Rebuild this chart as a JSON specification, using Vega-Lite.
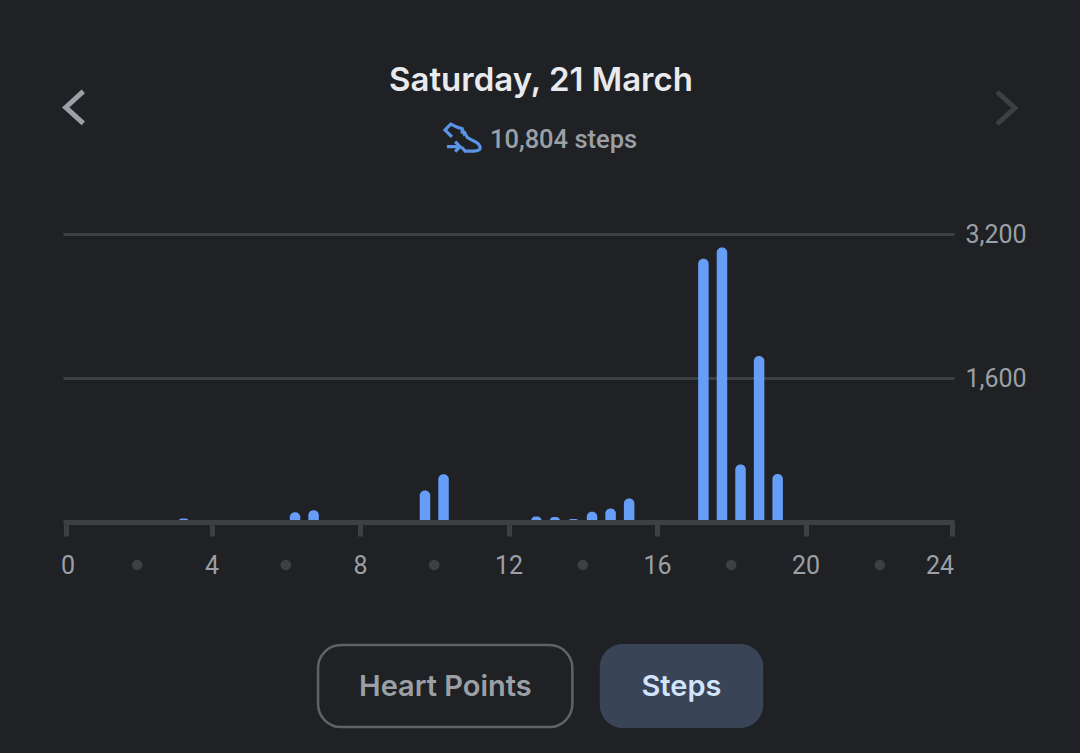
{
"$schema":"https://vega.github.io/schema/vega-lite/v6.json",
"width":891,"height":288,
"autosize":{"type":"none"},
"padding":{"left":63,"top":234,"right":126,"bottom":231},
"background":"#202124",
"config":{"view":{"stroke":null}},
"layer":[
{"data":{"values":[
{"hour":3.25,"steps":38},{"hour":6.25,"steps":108},{"hour":6.75,"steps":130},{"hour":9.75,"steps":350},{"hour":10.25,"steps":530},
{"hour":12.75,"steps":60},{"hour":13.25,"steps":55},{"hour":13.75,"steps":33},{"hour":14.25,"steps":115},{"hour":14.75,"steps":150},{"hour":15.25,"steps":260},
{"hour":17.25,"steps":2925},{"hour":17.75,"steps":3050},{"hour":18.25,"steps":640},{"hour":18.75,"steps":1845},{"hour":19.25,"steps":533}]},
"mark":{"type":"bar","size":10.5,"cornerRadiusTopLeft":5,"cornerRadiusTopRight":5,"color":"#669df6"},
"encoding":{
"x":{"field":"hour","type":"quantitative","scale":{"domain":[0,24],"nice":false,"padding":0},
"axis":{"values":[0,4,8,12,16,20,24],"grid":false,"title":null,"zindex":1,"domainColor":"#3c4043","domainWidth":5,"tickColor":"#3c4043","tickWidth":5,"tickSize":14,"tickOffset":{"expr":"datum.value==0?2.5:datum.value==24?-2.5:0"},"labelColor":"#9aa0a6","labelFont":"Roboto","labelFontSize":25,"labelPadding":17,"labelOffset":{"expr":"datum.value==0?-5:datum.value==24?2:0"},"labelAlign":{"expr":"datum.value==0?'left':datum.value==24?'right':'center'"},"format":"d"}},
"y":{"field":"steps","type":"quantitative","scale":{"domain":[0,3200],"nice":false,"padding":0},
"axis":{"orient":"right","values":[1600,3200],"title":null,"domain":false,"ticks":false,"grid":true,"gridColor":"#3c4043","gridWidth":3,"labelColor":"#9aa0a6","labelFont":"Roboto","labelFontSize":25,"labelPadding":11,"format":",.0f"}},
"y2":{"datum":-32}
}},
{"data":{"values":[{"hour":2},{"hour":6},{"hour":10},{"hour":14},{"hour":18},{"hour":22}]},
"mark":{"type":"point","filled":true,"size":110,"color":"#3c4043","opacity":1},
"encoding":{"x":{"field":"hour","type":"quantitative"},"y":{"datum":-478,"type":"quantitative"}}},
{"data":{"values":[{"label":"Saturday, 21 March"}]},
"mark":{"type":"text","font":"Inter","fontWeight":600,"fontSize":33,"color":"#e8eaed","align":"center","baseline":"middle"},
"encoding":{"text":{"field":"label"},"x":{"datum":12.875,"type":"quantitative"},"y":{"datum":4900,"type":"quantitative"}}},
{"data":{"values":[{"label":"10,804 steps"}]},
"mark":{"type":"text","font":"Roboto","fontWeight":500,"fontSize":25.5,"color":"#9aa0a6","align":"left","baseline":"middle"},
"encoding":{"text":{"field":"label"},"x":{"datum":11.5,"type":"quantitative"},"y":{"datum":4245,"type":"quantitative"}}},
{"data":{"values":[{"icon":"steps"}]},
"mark":{"type":"point","filled":false,"size":1344,"opacity":1,"stroke":"#5b93e8","strokeWidth":3.2,"shape":"M-.58,-.05L-.95,-.42L-.64,-.74L-.22,-.55L-.02,-.5L.04,-.32L-.1,-.3M.08,-.35L.16,-.2L.02,-.16M.2,-.12L.26,-.02L.51,.13C.8,.25,1,.38,.96,.6C.92,.75,.6,.74,.15,.73L-.04,.52M-.85,.49L-.22,.49M-.4,.22L-.13,.49L-.4,.76"},
"encoding":{"x":{"datum":10.76,"type":"quantitative"},"y":{"datum":4270,"type":"quantitative"}}},
{"data":{"values":[{"nav":"previous"}]},
"mark":{"type":"point","filled":false,"size":1024,"opacity":1,"stroke":"#9aa0a6","strokeWidth":5,"shape":"M.55,-1L-.55,0L.55,1"},
"encoding":{"x":{"datum":0.31,"type":"quantitative"},"y":{"datum":4606,"type":"quantitative"}}},
{"data":{"values":[{"nav":"next"}]},
"mark":{"type":"point","filled":false,"size":1024,"opacity":1,"stroke":"#3c4043","strokeWidth":5,"shape":"M-.55,-1L.55,0L-.55,1"},
"encoding":{"x":{"datum":25.4,"type":"quantitative"},"y":{"datum":4600,"type":"quantitative"}}},
{"data":{"values":[{"button":"Heart Points"}]},
"mark":{"type":"rect","fill":"#202124","stroke":"#5f6368","strokeWidth":2.5,"cornerRadius":23},
"encoding":{"x":{"datum":6.87,"type":"quantitative"},"x2":{"datum":13.72},"y":{"datum":-1367,"type":"quantitative"},"y2":{"datum":-2278}}},
{"data":{"values":[{"button":"Steps"}]},
"mark":{"type":"rect","fill":"#394457","cornerRadius":23},
"encoding":{"x":{"datum":14.46,"type":"quantitative"},"x2":{"datum":18.86},"y":{"datum":-1356,"type":"quantitative"},"y2":{"datum":-2289}}},
{"data":{"values":[{"button":"Heart Points"}]},
"mark":{"type":"text","font":"Inter","fontWeight":600,"fontSize":29,"color":"#9aa0a6","align":"center","baseline":"middle"},
"encoding":{"text":{"field":"button"},"x":{"datum":10.3,"type":"quantitative"},"y":{"datum":-1832,"type":"quantitative"}}},
{"data":{"values":[{"button":"Steps"}]},
"mark":{"type":"text","font":"Inter","fontWeight":600,"fontSize":29,"color":"#d2e3fc","align":"center","baseline":"middle"},
"encoding":{"text":{"field":"button"},"x":{"datum":16.66,"type":"quantitative"},"y":{"datum":-1832,"type":"quantitative"}}}
]
}
